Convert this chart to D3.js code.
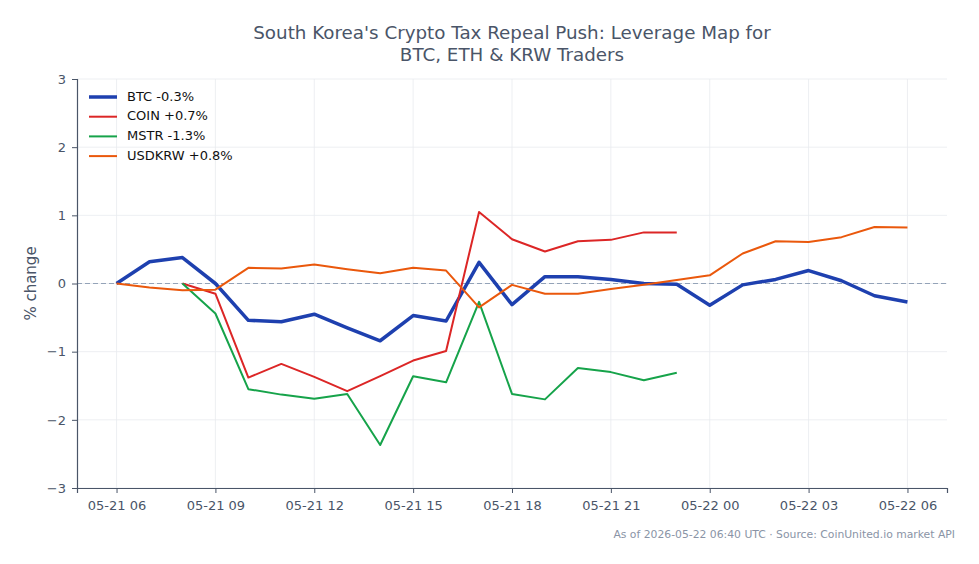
<!DOCTYPE html>
<html>
<head>
<meta charset="utf-8">
<script src="https://cdn.jsdelivr.net/npm/d3@7"></script>
<style>
  body { margin: 0; background: #fff; }
  text { font-family: "DejaVu Sans", sans-serif; }
</style>
</head>
<body>
<div id="chart"></div>
<script>
let width = 979,
    height = 564,
    margin = ({ top: 79, right: 32, bottom: 76, left: 77 });

// hourly timestamps 05-21 06:00 .. 05-22 06:00 (UTC)
const btcTimes = d3.range(25).map(h => new Date(Date.UTC(2026, 4, 21, 6 + h)));
const eqTimes = btcTimes.slice(2, 18);

const btc = [0, 0.32, 0.38, 0.0, -0.54, -0.56, -0.45, -0.65, -0.84, -0.47, -0.55, 0.31,
  -0.31, 0.10, 0.10, 0.06, 0.0, -0.01, -0.32, -0.02, 0.06, 0.19, 0.04, -0.18, -0.27];
const coin = [0, -0.15, -1.38, -1.18, -1.37, -1.58, -1.36, -1.13, -0.99, 1.05, 0.65,
  0.47, 0.62, 0.64, 0.75, 0.75];
const mstr = [0, -0.44, -1.55, -1.63, -1.69, -1.62, -2.37, -1.36, -1.45, -0.27, -1.62,
  -1.70, -1.24, -1.30, -1.42, -1.31];
const usdkrw = [0, -0.06, -0.1, -0.09, 0.23, 0.22, 0.28, 0.21, 0.15, 0.23, 0.19, -0.35,
  -0.02, -0.15, -0.15, -0.08, -0.02, 0.05, 0.12, 0.44, 0.62, 0.61, 0.68, 0.83, 0.82];

const yTicks = [-3, -2, -1, 0, 1, 2, 3];
const xTicks = d3.range(0, 25, 3).map(h => btcTimes[h]);

const series = [
  { name: "BTC -0.3%", times: btcTimes, values: btc, color: "#1e40af", w: 3.5 },
  { name: "COIN +0.7%", times: eqTimes, values: coin, color: "#dc2626", w: 2 },
  { name: "MSTR -1.3%", times: eqTimes, values: mstr, color: "#16a34a", w: 2 },
  { name: "USDKRW +0.8%", times: btcTimes, values: usdkrw, color: "#ea580c", w: 2 }
];

const svg = d3.select("#chart")
  .append("svg")
  .attr("width", width)
  .attr("height", height);

const pad = 1.2 * 3600e3;
let x = d3.scaleUtc()
  .domain([+btcTimes[0] - pad, +btcTimes[24] + pad])
  .range([margin.left, width - margin.right]);

let y = d3.scaleLinear()
  .domain([-3, 3])
  .range([height - margin.bottom, margin.top]);

const axisColor = "#4a5568";

// grid
svg.append("g")
  .selectAll("line.v")
  .data(xTicks)
  .join("line")
  .attr("x1", d => x(d)).attr("x2", d => x(d))
  .attr("y1", margin.top).attr("y2", height - margin.bottom)
  .attr("stroke", "#e8ebef").attr("stroke-width", 0.8);

svg.append("g")
  .selectAll("line.h")
  .data(yTicks)
  .join("line")
  .attr("x1", margin.left).attr("x2", width - margin.right)
  .attr("y1", d => y(d)).attr("y2", d => y(d))
  .attr("stroke", "#e8ebef").attr("stroke-width", 0.8);

// zero line
svg.append("line")
  .attr("x1", margin.left).attr("x2", width - margin.right)
  .attr("y1", y(0)).attr("y2", y(0))
  .attr("stroke", "#94a3b8")
  .attr("stroke-width", 1.2)
  .attr("stroke-dasharray", "5,3");

// axes
let xAxis = svg.append("g")
  .attr("transform", `translate(0,${height - margin.bottom})`)
  .call(d3.axisBottom(x).tickValues(xTicks).tickSize(5).tickPadding(8)
    .tickFormat(d3.utcFormat("%m-%d %H")));

let yAxis = svg.append("g")
  .attr("transform", `translate(${margin.left},0)`)
  .call(d3.axisLeft(y).tickValues(yTicks).tickSize(5).tickPadding(6)
    .tickFormat(d3.format("d")));

for (let g of [xAxis, yAxis]) {
  g.select(".domain").attr("stroke", axisColor).attr("stroke-width", 1.2);
  g.selectAll(".tick line").attr("stroke", axisColor);
  g.selectAll(".tick text")
    .attr("fill", axisColor)
    .attr("font-size", 13)
    .attr("font-family", "DejaVu Sans, sans-serif");
}

// lines
let line = d3.line()
  .x(d => x(d[0]))
  .y(d => y(d[1]));

for (let s of series) {
  svg.append("path")
    .datum(s.times.map((t, i) => [t, s.values[i]]))
    .attr("fill", "none")
    .attr("stroke", s.color)
    .attr("stroke-width", s.w)
    .attr("stroke-linejoin", "round")
    .attr("d", line);
}

// legend
let legend = svg.append("g").attr("transform", "translate(89,97)");
series.forEach((s, i) => {
  let row = legend.append("g").attr("transform", `translate(0,${i * 19.7})`);
  row.append("line")
    .attr("x1", 0).attr("x2", 28)
    .attr("stroke", s.color)
    .attr("stroke-width", s.w);
  row.append("text")
    .attr("x", 38)
    .attr("dominant-baseline", "middle")
    .attr("font-size", 13)
    .attr("fill", "#111")
    .text(s.name);
});

// title
svg.append("text")
  .attr("text-anchor", "middle")
  .attr("x", 512)
  .attr("font-size", 18.3)
  .attr("fill", axisColor)
  .selectAll("tspan")
  .data(["South Korea's Crypto Tax Repeal Push: Leverage Map for", "BTC, ETH & KRW Traders"])
  .join("tspan")
  .attr("x", 512)
  .attr("y", (d, i) => 39 + i * 21.5)
  .text(d => d);

// y label
svg.append("text")
  .attr("text-anchor", "middle")
  .attr("transform", `translate(36,${y(0)}) rotate(-90)`)
  .attr("font-size", 15)
  .attr("fill", axisColor)
  .text("% change");

// footer
svg.append("text")
  .attr("text-anchor", "end")
  .attr("x", 955)
  .attr("y", 538)
  .attr("font-size", 10.8)
  .attr("fill", "#8a94a6")
  .text("As of 2026-05-22 06:40 UTC · Source: CoinUnited.io market API");
</script>
</body>
</html>
